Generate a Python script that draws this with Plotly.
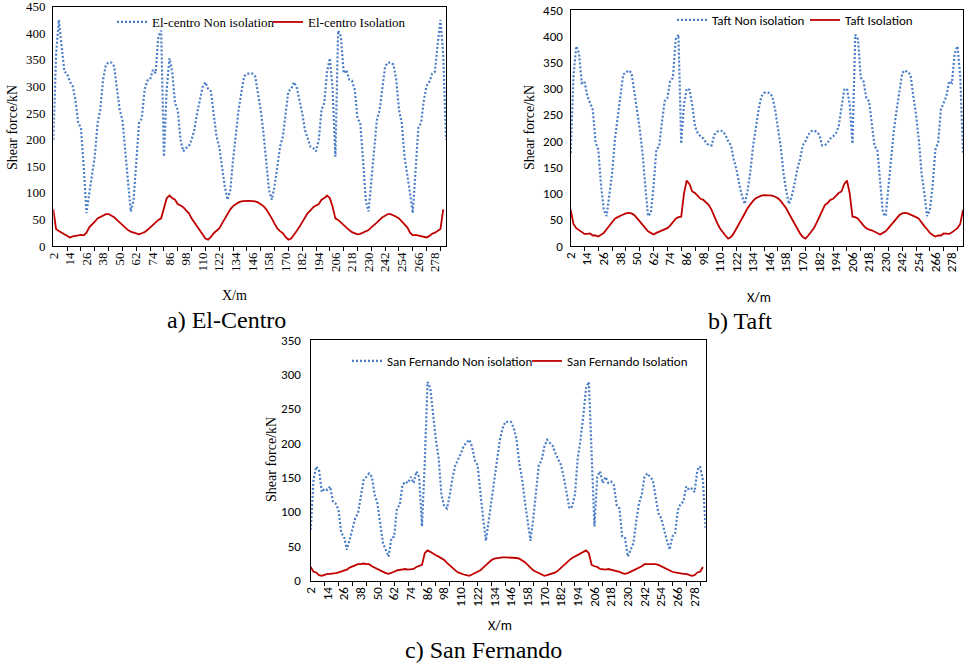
import plotly.graph_objects as go

W, H = 965, 666

# X positions (m)
X = list(range(2, 287, 2))
XLABELS = list(range(2, 279, 12))
XTICKS = list(range(2, 283, 10))

# a) El-Centro
el_non = [200,360,425,380,328,324,309,301,275,232,222,149,62,99,137,168,231,256,313,341,
          345,345,338,300,256,237,181,124,65,85,162,231,240,294,311,313,331,325,394,405,
          168,295,353,328,269,256,200,178,184,187,200,218,250,275,299,308,295,291,250,206,
          187,149,112,87,105,162,212,256,288,319,324,324,
          324,319,288,256,212,162,105,87,112,149,187,206,250,291,295,308,299,275,250,218,
          200,187,184,178,200,256,269,328,353,295,168,405,394,325,331,313,311,294,240,231,
          162,85,65,124,181,237,256,300,338,345,345,341,313,256,231,168,137,99,62,149,
          222,232,275,301,309,324,328,380,425,360,200]
el_iso = [69,32,28,25,23,19,16,18,19,20,21,20,25,35,40,46,52,55,58,60,
          60,57,54,49,44,39,35,30,27,25,23,22,24,26,30,35,39,44,49,52,
          74,90,95,90,87,79,76,73,67,62,52,44,36,28,20,14,12,17,24,28,
          33,42,52,61,69,75,79,82,84,85,85,85,
          85,84,82,79,75,69,61,52,42,33,28,24,17,12,14,20,28,36,44,52,
          62,67,73,76,79,87,90,95,90,74,52,49,44,39,35,30,26,24,22,23,
          25,27,30,35,39,44,49,54,57,60,60,58,55,52,46,40,35,25,20,21,
          20,19,18,16,19,23,25,28,32,69]

# b) Taft
taft_non = [177,324,381,368,311,314,286,273,260,197,184,114,69,57,101,139,203,251,286,327,
            331,335,330,298,260,222,177,114,57,63,114,184,190,235,276,282,314,321,394,403,
            195,270,300,298,268,228,215,209,205,197,192,192,212,218,220,219,212,200,192,165,
            146,118,95,80,105,140,190,225,260,285,292,293,
            292,285,260,225,190,140,105,80,95,118,146,165,192,200,212,219,220,218,212,192,
            192,197,205,209,215,228,268,298,300,270,195,403,394,321,314,282,276,235,190,184,
            114,63,57,114,177,222,260,298,330,335,331,327,286,251,203,139,101,57,69,114,
            184,197,260,273,286,314,311,368,381,324,177]
taft_iso = [69,42,34,30,26,23,23,24,20,20,18,21,25,32,38,44,52,55,58,60,
            62,63,62,59,53,47,40,34,28,25,22,25,27,30,31,34,39,45,52,55,
            56,100,125,118,104,101,95,90,88,82,78,69,55,44,34,26,20,14,17,24,
            33,42,52,62,72,80,86,91,94,96,97,97,
            97,96,94,91,86,80,72,62,52,42,33,24,17,14,20,26,34,44,55,69,
            78,82,88,90,95,101,104,118,125,100,56,55,52,45,39,34,31,30,27,25,
            22,25,28,34,40,47,53,59,62,63,62,60,58,55,52,44,38,32,25,21,
            18,20,20,24,23,23,26,30,34,42,69]

# c) San Fernando
sf_non = [74,146,166,161,129,134,132,137,115,112,103,69,64,45,59,74,91,98,122,146,
          151,156,151,125,112,86,54,45,35,62,64,105,110,139,144,142,151,142,159,151,
          79,171,289,280,240,205,178,125,108,105,125,150,168,176,185,196,201,205,195,175,
          168,125,90,58,88,115,148,170,205,222,231,231,
          231,222,205,170,148,115,88,58,90,125,168,175,195,205,201,196,185,176,168,150,
          125,105,108,125,178,205,240,280,289,171,79,151,159,142,151,142,144,139,110,105,
          64,62,35,45,54,86,112,125,151,156,151,146,122,98,91,74,59,45,64,69,
          103,112,115,137,132,134,129,161,166,146,74]
sf_iso = [20,13,12,8,7,9,10,10,10,11,12,13,14,16,19,21,23,24,24,25,
          24,24,21,19,16,15,13,11,10,11,13,15,16,16,17,16,16,17,20,21,
          23,40,44,42,39,37,35,33,30,26,22,19,15,12,10,9,8,7,9,11,
          13,15,19,23,27,30,32,33,34,34,34,34,
          34,34,33,32,30,27,23,19,15,13,11,9,7,8,9,10,12,15,19,22,
          26,30,33,35,37,39,42,44,40,23,21,20,17,16,16,17,16,16,15,13,
          11,10,11,13,15,16,19,21,24,24,25,24,24,23,21,19,16,14,13,12,
          11,10,10,10,9,7,8,12,13,20]

BLUE = "#4A7DC8"
RED = "#C00000"
SERIF = "Liberation Serif, Times New Roman, serif"
SANS = "Carlito, Calibri, Lato, sans-serif"


def px(x):
    return x / W


def py(y):
    return 1 - y / H


panels = [
    dict(key="", non=el_non, iso=el_iso, names=("El-centro Non isolation", "El-centro Isolation"),
         xd=[px(53.3), px(446)], yd=[py(246), py(6.7)], yr=[0, 450], dt=50, font=SERIF, fs=13,
         legend="legend", legxy=(112, 22), lw=111, stand=4),
    dict(key="2", non=taft_non, iso=taft_iso, names=("Taft Non isolation", "Taft Isolation"),
         xd=[px(570.7), px(963)], yd=[py(246), py(10)], yr=[0, 450], dt=50, font=SANS, fs=13,
         legend="legend2", legxy=(672, 20), lw=88, stand=4),
    dict(key="3", non=sf_non, iso=sf_iso, names=("San Fernando Non isolation", "San Fernando Isolation"),
         xd=[px(310.7), px(705.7)], yd=[py(580.7), py(340)], yr=[0, 350], dt=50, font=SANS, fs=13,
         legend="legend3", legxy=(347, 361), lw=135, stand=6),
]

fig = go.Figure()
layout = {}
for p in panels:
    k = p["key"]
    xref = "x" + k
    yref = "y" + k
    fig.add_trace(go.Scatter(x=X, y=p["non"], mode="lines", name=p["names"][0],
                             line=dict(color=BLUE, width=2.2, dash="2px,2px"),
                             xaxis=xref, yaxis=yref, legend=p["legend"], legendwidth=p["lw"]))
    fig.add_trace(go.Scatter(x=X, y=p["iso"], mode="lines", name=p["names"][1],
                             line=dict(color=RED, width=1.8),
                             xaxis=xref, yaxis=yref, legend=p["legend"]))
    layout["xaxis" + k] = dict(
        domain=p["xd"], range=[2, 286], anchor=yref, automargin=False,
        tickmode="array", tickvals=XLABELS, ticktext=[str(v) for v in XLABELS],
        ticks="inside", ticklen=0, tickangle=-90, ticklabeloverflow="allow",
        minor=dict(tickmode="array", tickvals=XTICKS, ticks="outside", ticklen=4,
                   tickcolor="black", tickwidth=1, showgrid=False),
        showgrid=False, zeroline=False, showline=True, linecolor="black", linewidth=1.4,
        mirror=True, tickfont=dict(family=p["font"], size=p["fs"], color="black"),
    )
    layout["yaxis" + k] = dict(
        domain=p["yd"], range=p["yr"], anchor=xref, dtick=p["dt"], tick0=0, automargin=False,
        showgrid=False, zeroline=False, showline=True, linecolor="black", linewidth=1.4,
        mirror=True, ticks="", ticklabelstandoff=p["stand"], ticklabeloverflow="allow",
        tickfont=dict(family=p["font"], size=p["fs"], color="black"),
    )
    layout[p["legend"]] = dict(
        x=px(p["legxy"][0]), y=py(p["legxy"][1]), xanchor="left", yanchor="middle",
        orientation="h", bgcolor="rgba(0,0,0,0)", itemwidth=30,
        font=dict(family=p["font"], size=p["fs"], color="black"),
    )

annotations = [
    # a
    dict(text="Shear force/kN", x=px(12), y=py(128), textangle=-90,
         font=dict(family=SERIF, size=14)),
    dict(text="X/m", x=px(234), y=py(295), font=dict(family=SERIF, size=14)),
    dict(text="a) El-Centro", x=px(226), y=py(320), font=dict(family=SERIF, size=24)),
    # b
    dict(text="Shear force/kN", x=px(529), y=py(128), textangle=-90,
         font=dict(family=SERIF, size=14)),
    dict(text="X/m", x=px(759), y=py(297), font=dict(family=SANS, size=14)),
    dict(text="b) Taft", x=px(740), y=py(321), font=dict(family=SERIF, size=24)),
    # c
    dict(text="Shear force/kN", x=px(271), y=py(460), textangle=-90,
         font=dict(family=SERIF, size=14)),
    dict(text="X/m", x=px(500), y=py(625), font=dict(family=SANS, size=14)),
    dict(text="c) San Fernando", x=px(484), y=py(650), font=dict(family=SERIF, size=24)),
]
for a in annotations:
    a.update(xref="paper", yref="paper", showarrow=False, xanchor="center", yanchor="middle")
    a["font"]["color"] = "black"

fig.update_layout(
    template="none",
    width=W, height=H, margin=dict(l=0, r=0, t=0, b=0, pad=0, autoexpand=False),
    paper_bgcolor="white", plot_bgcolor="white",
    annotations=annotations, **layout,
)

fig.write_html("out.html", config={"displayModeBar": False},
               post_script="document.body.style.margin='0px';")
